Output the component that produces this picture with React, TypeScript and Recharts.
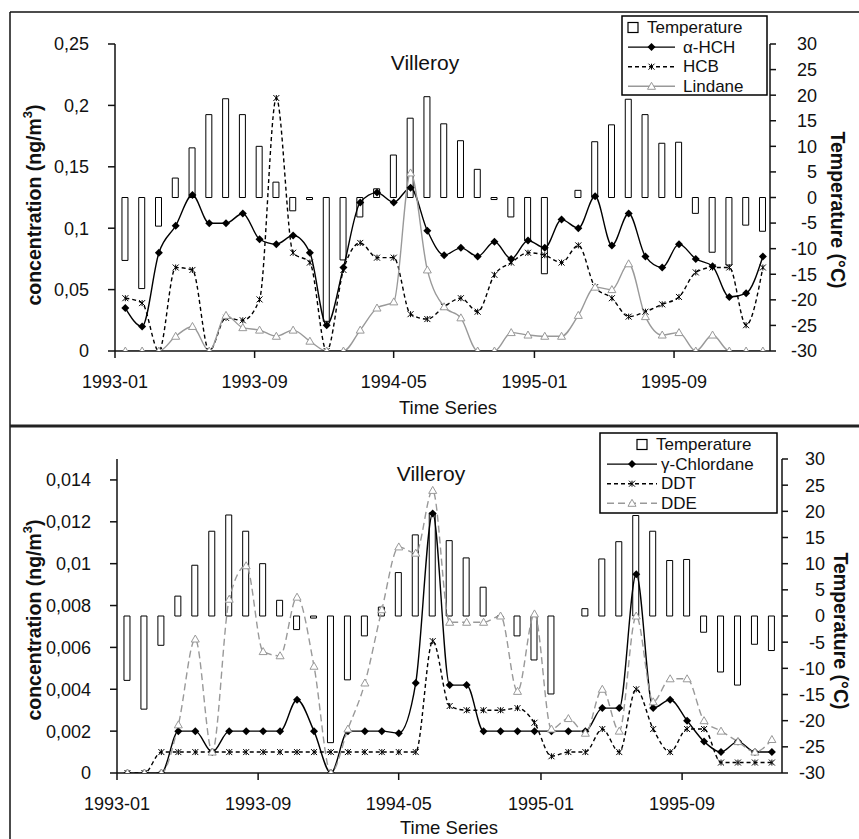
import React from 'react'
import { ComposedChart, Bar, Line, XAxis, YAxis } from 'recharts'

// sampling roughly every 29 days starting mid January 1993 (x in days since 1993-01-01)
const tickDays = [0, 243, 485, 730, 973]
const tickLabels = ['1993-01', '1993-09', '1994-05', '1995-01', '1995-09']

// Villeroy air temperature (°C), same series in both panels
const temperature = [
  -12.3, -17.8, -5.6, 3.8, 9.7, 16.2, 19.3, 16.2, 10, 3,
  -2.6, -0.4, -24.2, -12.2, -3.8, 1.7, 8.3, 15.5, 19.7, 14.4,
  11.1, 5.5, -0.4, -3.8, -8.4, -14.9, null, 1.4, 10.9, 14.2,
  19.2, 16.2, 10.6, 10.8, -3.1, -10.7, -13.2, -5.4, -6.6,
]

// top panel (ng/m3)
const alphaHCH = [
  0.035, 0.02, 0.08, 0.102, 0.127, 0.104, 0.104, 0.112, 0.091, 0.087,
  0.094, 0.08, 0.021, 0.068, 0.121, 0.129, 0.121, 0.133, 0.098, 0.078,
  0.084, 0.077, 0.089, 0.075, 0.09, 0.084, 0.107, 0.1, 0.126, 0.086,
  0.112, 0.077, 0.068, 0.087, 0.075, 0.069, 0.044, 0.047, 0.077,
]
const hcb = [
  0.043, 0.039, 0, 0.068, 0.066, 0, 0.027, 0.025, 0.042, 0.206,
  0.08, 0.072, 0, 0.066, 0.088, 0.076, 0.076, 0.03, 0.026, 0.036,
  0.043, 0.032, 0.062, 0.072, 0.08, 0.078, 0.072, 0.086, 0.052, 0.043,
  0.028, 0.032, 0.038, 0.044, 0.064, 0.068, 0.068, 0.021, 0.068,
]
const lindane = [
  0, 0, 0, 0.012, 0.02, 0, 0.029, 0.019, 0.017, 0.012,
  0.017, 0.008, 0, 0, 0.017, 0.035, 0.04, 0.145, 0.066, 0.036,
  0.027, 0, 0, 0.015, 0.013, 0.012, 0.012, 0.029, 0.052, 0.05,
  0.071, 0.028, 0.013, 0.015, 0, 0.013, 0, 0, 0,
]

// bottom panel (ng/m3)
const gammaChlordane = [
  0, 0, 0, 0.002, 0.002, 0.001, 0.002, 0.002, 0.002, 0.002,
  0.0035, 0.002, 0, 0.002, 0.002, 0.002, 0.0019, 0.0043, 0.0124, 0.0042,
  0.0042, 0.002, 0.002, 0.002, 0.002, 0.002, 0.002, 0.002, 0.0031, 0.0031,
  0.0095, 0.0031, 0.0035, 0.0025, 0.0015, 0.001, 0.0015, 0.001, 0.001,
]
const ddt = [
  0, 0, 0.001, 0.001, 0.001, 0.001, 0.001, 0.001, 0.001, 0.001,
  0.001, 0.001, 0.001, 0.001, 0.001, 0.001, 0.001, 0.001, 0.0063, 0.0032,
  0.003, 0.003, 0.003, 0.0031, 0.0024, 0.0008, 0.001, 0.001, 0.0021, 0.001,
  0.004, 0.0021, 0.001, 0.0021, 0.0021, 0.0005, 0.0005, 0.0005, 0.0005,
]
const dde = [
  0, 0, 0, 0.0023, 0.0064, 0.001, 0.0083, 0.0099, 0.0058, 0.0056,
  0.0084, 0.0051, 0, 0.0021, 0.0043, 0.0078, 0.0108, 0.0105, 0.0135, 0.0072,
  0.0072, 0.0072, 0.0075, 0.0039, 0.0076, 0.0021, 0.0026, 0.0019, 0.004, 0.002,
  0.0075, 0.0034, 0.0045, 0.0045, 0.0025, 0.002, 0.0015, 0.001, 0.0016,
]

const topTicks = [0, 0.05, 0.1, 0.15, 0.2, 0.25]
const bottomTicks = [0, 0.002, 0.004, 0.006, 0.008, 0.01, 0.012, 0.014]
const tempTicks = [-30, -25, -20, -15, -10, -5, 0, 5, 10, 15, 20, 25, 30]

const FONT = '"Liberation Sans", Arial, sans-serif'
const GREY = '#999'

const topData = temperature.map((t, i) => ({
  day: 18 + i * 29.2,
  temp: t,
  alpha: alphaHCH[i],
  hcb: hcb[i],
  lindane: lindane[i],
}))

const bottomData = temperature.map((t, i) => ({
  day: 18 + i * 29.2,
  temp: t,
  gamma: gammaChlordane[i],
  ddt: ddt[i],
  dde: dde[i],
}))

type Pt = { cx: number; cy: number }

function Diamond({ cx, cy }: Pt) {
  return <path d={`M${cx},${cy - 4}L${cx + 4},${cy}L${cx},${cy + 4}L${cx - 4},${cy}Z`} fill="#000" />
}
function Star({ cx, cy }: Pt) {
  const s = 3
  return (
    <path
      d={`M${cx - s},${cy - s}L${cx + s},${cy + s}M${cx - s},${cy + s}L${cx + s},${cy - s}M${cx},${cy - s}L${cx},${cy + s}`}
      stroke="#000"
      strokeWidth={1}
      fill="none"
    />
  )
}
function Triangle({ cx, cy }: Pt) {
  return <path d={`M${cx},${cy - 4}L${cx + 4},${cy + 3}L${cx - 4},${cy + 3}Z`} fill="#fff" stroke={GREY} strokeWidth={1} />
}

const dotOf = (Shape: (p: Pt) => React.ReactElement) => (p: any) => {
  if (p.cx == null || p.cy == null || Number.isNaN(p.cy)) return <g key={'n' + p.index} />
  return <Shape key={'d' + p.index} cx={p.cx} cy={p.cy} />
}

const commaFmt = (v: number) => String(v).replace('.', ',')

function RightTick(props: any) {
  const { x, y, payload, shift } = props
  return (
    <text x={x + shift} y={y} dy="0.355em" textAnchor="end" fontSize={18} fontFamily={FONT} fill="#111">
      {payload.value}
    </text>
  )
}

type SeriesDef = { key: string; color: string; dash?: string; shape: (p: Pt) => React.ReactElement }

interface PanelProps {
  data: any[]
  top: number
  height: number
  marginTop: number
  xHeight: number
  leftWidth: number
  rightWidth: number
  xMax: number
  yMax: number
  yTicks: number[]
  rightShift: number
  series: SeriesDef[]
}

function Panel(p: PanelProps) {
  const tickStyle = { fontSize: 18, fontFamily: FONT, fill: '#111' }
  const axisLine = { stroke: '#111', strokeWidth: 1.5 }
  return (
    <div style={{ position: 'absolute', left: 0, top: p.top }}>
      <ComposedChart width={859} height={p.height} data={p.data} margin={{ top: p.marginTop, right: 0, bottom: 0, left: 0 }}>
        <XAxis
          type="number"
          dataKey="day"
          domain={[0, p.xMax]}
          ticks={tickDays}
          interval={0}
          tickFormatter={(v) => tickLabels[tickDays.indexOf(v)]}
          height={p.xHeight}
          tickSize={7}
          tickMargin={17}
          tick={tickStyle}
          axisLine={axisLine}
          tickLine={axisLine}
        />
        <YAxis
          yAxisId="left"
          domain={[0, p.yMax]}
          ticks={p.yTicks}
          interval={0}
          width={p.leftWidth}
          tickFormatter={commaFmt}
          tickSize={7}
          tickMargin={19}
          tick={tickStyle}
          axisLine={axisLine}
          tickLine={axisLine}
          allowDataOverflow
        />
        <YAxis
          yAxisId="right"
          orientation="right"
          domain={[-30, 30]}
          ticks={tempTicks}
          interval={0}
          width={p.rightWidth}
          tickSize={6}
          tickMargin={2}
          tick={<RightTick shift={p.rightShift} />}
          axisLine={axisLine}
          tickLine={axisLine}
        />
        <Bar yAxisId="right" dataKey="temp" fill="#fff" stroke="#000" strokeWidth={1} barSize={6} isAnimationActive={false} />
        {p.series.map((s) => (
          <Line
            key={s.key}
            yAxisId="left"
            type="monotone"
            dataKey={s.key}
            stroke={s.color}
            strokeWidth={1.4}
            strokeDasharray={s.dash}
            dot={dotOf(s.shape)}
            activeDot={false}
            isAnimationActive={false}
          />
        ))}
      </ComposedChart>
    </div>
  )
}

function LegendBox({ x, y, w, h, rows, squareX, textX, lineX0, lineX1 }: any) {
  return (
    <g>
      <rect x={x} y={y} width={w} height={h} fill="#fff" stroke="#000" strokeWidth={1.5} />
      {rows.map((r: any, i: number) => {
        const cy = y + 11.5 + i * 19.6
        return (
          <g key={r.label}>
            {r.square ? (
              <rect x={squareX} y={cy - 5} width={10} height={10} fill="#fff" stroke="#000" strokeWidth={1.2} />
            ) : (
              <>
                <line x1={lineX0} x2={lineX1} y1={cy} y2={cy} stroke={r.color} strokeWidth={1.4} strokeDasharray={r.dash} />
                {r.shape({ cx: (lineX0 + lineX1) / 2, cy })}
              </>
            )}
            <text x={r.square ? squareX + 19 : textX} y={cy} dominantBaseline="central" fontSize={17} fontFamily={FONT} fill="#111">
              {r.label}
            </text>
          </g>
        )
      })}
    </g>
  )
}

export default function App() {
  const topSeries: SeriesDef[] = [
    { key: 'alpha', color: '#000', shape: Diamond },
    { key: 'hcb', color: '#000', dash: '4 3', shape: Star },
    { key: 'lindane', color: GREY, shape: Triangle },
  ]
  const bottomSeries: SeriesDef[] = [
    { key: 'gamma', color: '#000', shape: Diamond },
    { key: 'ddt', color: '#000', dash: '4 3', shape: Star },
    { key: 'dde', color: GREY, dash: '7 4', shape: Triangle },
  ]
  const titleStyle = { fontFamily: FONT, fill: '#111' }
  return (
    <div style={{ position: 'absolute', left: 0, top: 0, width: 859, height: 839, background: '#fff', overflow: 'hidden' }}>
      <Panel
        data={topData}
        top={0}
        height={426}
        marginTop={44}
        xHeight={75}
        leftWidth={115}
        rightWidth={89}
        xMax={1140}
        yMax={0.25}
        yTicks={topTicks}
        rightShift={39}
        series={topSeries}
      />
      <Panel
        data={bottomData}
        top={426}
        height={413}
        marginTop={33}
        xHeight={66}
        leftWidth={117}
        rightWidth={77}
        xMax={1145}
        yMax={0.015}
        yTicks={bottomTicks}
        rightShift={35}
        series={bottomSeries}
      />
      <svg width={859} height={839} style={{ position: 'absolute', left: 0, top: 0, pointerEvents: 'none' }}>
        <line x1={10} x2={859} y1={12} y2={12} stroke="#111" strokeWidth={1.5} />
        <line x1={10} x2={10} y1={12} y2={839} stroke="#111" strokeWidth={1.5} />
        <line x1={10} x2={859} y1={426} y2={426} stroke="#222" strokeWidth={3} />

        <text x={425} y={62} textAnchor="middle" dominantBaseline="central" fontSize={21} {...titleStyle}>Villeroy</text>
        <text x={431} y={473} textAnchor="middle" dominantBaseline="central" fontSize={21} {...titleStyle}>Villeroy</text>

        <text x={448} y={407} textAnchor="middle" dominantBaseline="central" fontSize={18.5} {...titleStyle}>Time Series</text>
        <text x={449} y={827} textAnchor="middle" dominantBaseline="central" fontSize={18.5} {...titleStyle}>Time Series</text>

        {[205, 620].map((cy) => (
          <text key={cy} x={34} y={cy} transform={`rotate(-90, 34, ${cy})`} textAnchor="middle" dominantBaseline="central" fontSize={19.5} fontWeight="bold" {...titleStyle}>
            concentration (ng/m<tspan dy={-7} fontSize={13}>3</tspan><tspan dy={7}>)</tspan>
          </text>
        ))}
        <text x={838} y={210} transform="rotate(90, 838, 210)" textAnchor="middle" dominantBaseline="central" fontSize={19.5} fontWeight="bold" {...titleStyle}>Temperature (°C)</text>
        <text x={841} y={631} transform="rotate(90, 841, 631)" textAnchor="middle" dominantBaseline="central" fontSize={19.5} fontWeight="bold" {...titleStyle}>Temperature (°C)</text>

        <LegendBox
          x={622}
          y={16}
          w={145}
          h={79}
          squareX={628}
          textX={683}
          lineX0={628}
          lineX1={675}
          rows={[
            { label: 'Temperature', square: true },
            { label: 'α-HCH', color: '#000', shape: Diamond },
            { label: 'HCB', color: '#000', dash: '4 3', shape: Star },
            { label: 'Lindane', color: GREY, shape: Triangle },
          ]}
        />
        <LegendBox
          x={600}
          y={433}
          w={177}
          h={80}
          squareX={637}
          textX={661}
          lineX0={607}
          lineX1={657}
          rows={[
            { label: 'Temperature', square: true },
            { label: 'γ-Chlordane', color: '#000', shape: Diamond },
            { label: 'DDT', color: '#000', dash: '4 3', shape: Star },
            { label: 'DDE', color: GREY, dash: '7 4', shape: Triangle },
          ]}
        />
      </svg>
    </div>
  )
}
